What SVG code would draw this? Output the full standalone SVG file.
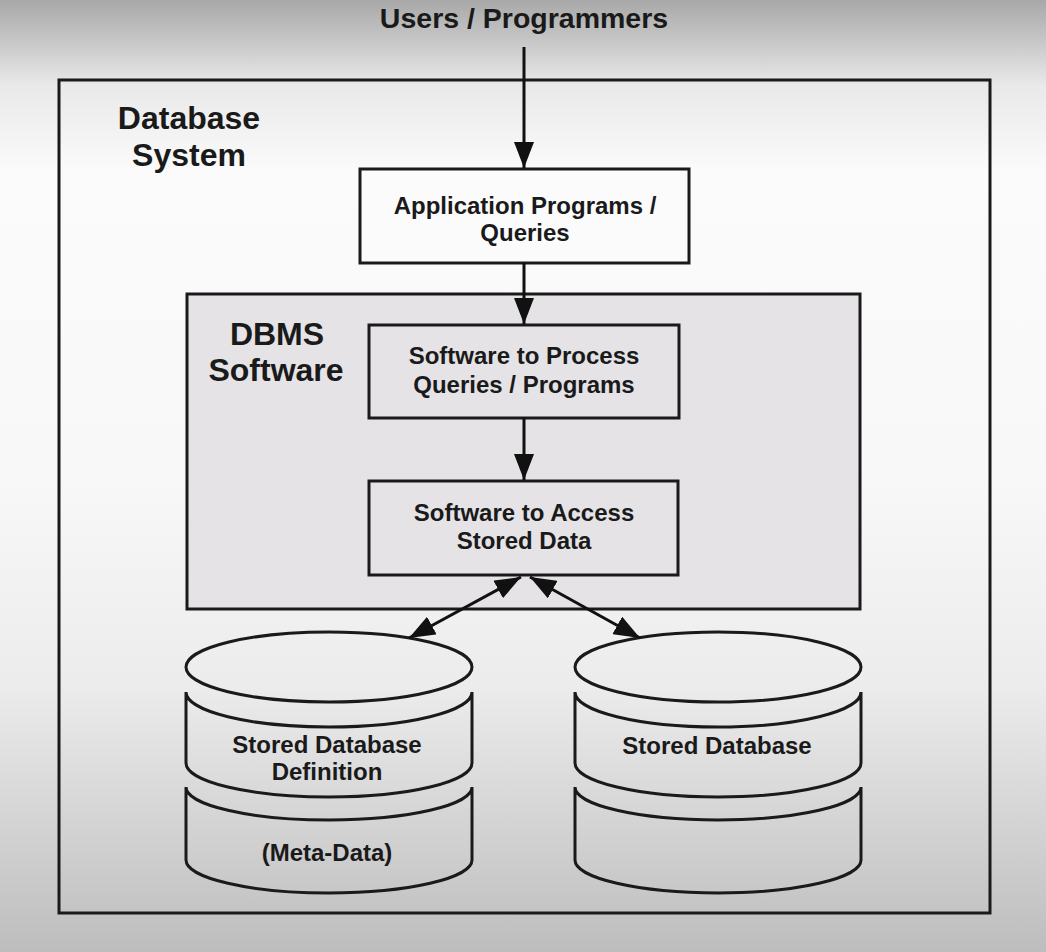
<svg xmlns="http://www.w3.org/2000/svg" width="1046" height="952" viewBox="0 0 1046 952">
  <defs>
    <linearGradient id="bg" x1="0" y1="0" x2="0" y2="1">
      <stop offset="0" stop-color="#a8a8a8"/>
      <stop offset="0.09" stop-color="#e9e9e9"/>
      <stop offset="0.18" stop-color="#fbfbfb"/>
      <stop offset="0.5" stop-color="#f8f8f8"/>
      <stop offset="0.72" stop-color="#ececec"/>
      <stop offset="1" stop-color="#bdbdbd"/>
    </linearGradient>
    <marker id="ah" viewBox="0 0 13 10" refX="13" refY="5" markerUnits="userSpaceOnUse" markerWidth="26" markerHeight="20" orient="auto-start-reverse">
      <path d="M0,0 L13,5 L0,10 z" fill="#111"/>
    </marker>
    <style>
      .box { fill: none; stroke: #1a1a1a; stroke-width: 3; }
      .t { font-family: "Liberation Sans", Arial, sans-serif; font-weight: bold; fill: #1a1a1a; text-anchor: middle; }
      .big { font-size: 32px; }
      .mid { font-size: 24px; }
      .conn { stroke: #111; stroke-width: 3; fill: none; }
    </style>
  </defs>

  <rect x="0" y="0" width="1046" height="952" fill="url(#bg)"/>

  <g id="users">
    <text class="t" x="524" y="28" font-size="28.5">Users / Programmers</text>
  </g>

  <g id="database-system">
    <rect class="box" x="59" y="80" width="931" height="833"/>
    <text class="t big" x="189" y="129">Database</text>
    <text class="t big" x="189" y="166">System</text>
  </g>

  <g id="dbms-software">
    <rect x="187" y="294" width="673" height="315" fill="#e5e3e6" stroke="#1a1a1a" stroke-width="3"/>
    <text class="t big" x="277" y="345">DBMS</text>
    <text class="t big" x="276" y="381">Software</text>
  </g>

  <g id="app-programs">
    <rect x="360" y="169" width="329" height="94" fill="#fbfbfb" stroke="#1a1a1a" stroke-width="3"/>
    <text class="t mid" x="525" y="214">Application Programs /</text>
    <text class="t mid" x="525" y="241">Queries</text>
  </g>

  <g id="process-queries">
    <rect class="box" x="369" y="325" width="310" height="93"/>
    <text class="t mid" x="524" y="364">Software to Process</text>
    <text class="t mid" x="524" y="393">Queries / Programs</text>
  </g>

  <g id="access-data">
    <rect class="box" x="369" y="481" width="309" height="94"/>
    <text class="t mid" x="524" y="521">Software to Access</text>
    <text class="t mid" x="524" y="549">Stored Data</text>
  </g>

  <g id="stored-definition">
    <ellipse class="box" cx="329" cy="667" rx="143" ry="35"/>
    <path class="box" d="M186,692 A143,35 0 0 0 472,692 L472,763 A143,34 0 0 1 186,763 Z"/>
    <path class="box" d="M186,787 A143,33 0 0 0 472,787 L472,860 A143,33 0 0 1 186,860 Z"/>
    <text class="t mid" x="327" y="753">Stored Database</text>
    <text class="t mid" x="327" y="780">Definition</text>
    <text class="t mid" x="327" y="861">(Meta-Data)</text>
  </g>

  <g id="stored-database">
    <ellipse class="box" cx="718" cy="667" rx="143" ry="35"/>
    <path class="box" d="M575,692 A143,35 0 0 0 861,692 L861,763 A143,34 0 0 1 575,763 Z"/>
    <path class="box" d="M575,787 A143,33 0 0 0 861,787 L861,860 A143,33 0 0 1 575,860 Z"/>
    <text class="t mid" x="717" y="754">Stored Database</text>
  </g>

  <g id="connectors">
    <line class="conn" x1="524" y1="47" x2="524" y2="168" marker-end="url(#ah)"/>
    <line class="conn" x1="524" y1="263" x2="524" y2="324" marker-end="url(#ah)"/>
    <line class="conn" x1="524" y1="418" x2="524" y2="480" marker-end="url(#ah)"/>
    <line class="conn" x1="521" y1="577" x2="409" y2="638" marker-start="url(#ah)" marker-end="url(#ah)"/>
    <line class="conn" x1="530" y1="577" x2="640" y2="638" marker-start="url(#ah)" marker-end="url(#ah)"/>
  </g>
</svg>
